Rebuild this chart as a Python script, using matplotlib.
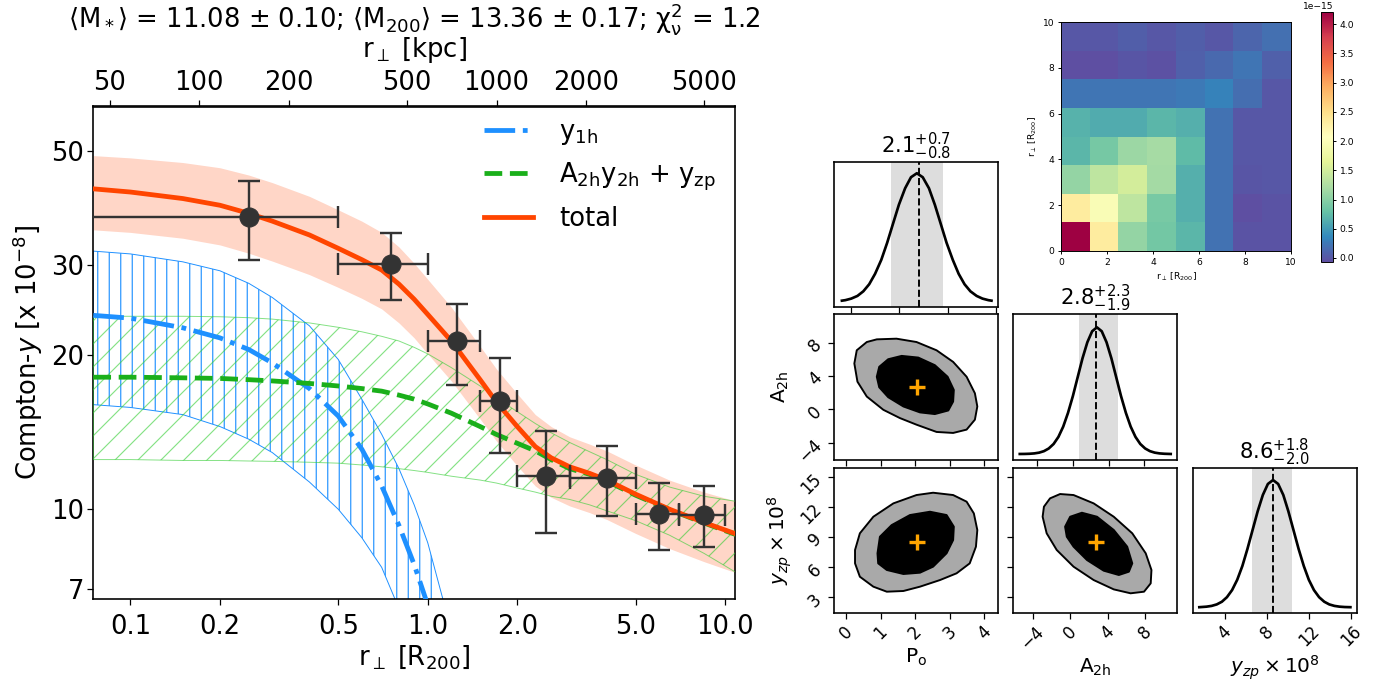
import numpy as np
import matplotlib
matplotlib.use('Agg')
import matplotlib.pyplot as plt
from matplotlib.ticker import NullLocator

plt.rcParams['font.family'] = ['DejaVu Sans']
plt.rcParams['mathtext.default'] = 'regular'
plt.rcParams['axes.linewidth'] = 1.7
plt.rcParams['hatch.linewidth'] = 1.2
plt.rcParams['xtick.major.size'] = 6
plt.rcParams['ytick.major.size'] = 6
plt.rcParams['xtick.major.width'] = 1.3
plt.rcParams['ytick.major.width'] = 1.3

# ---------------- main profile data ----------------
r_data = [0.25, 0.75, 1.25, 1.75, 2.5, 4.0, 6.0, 8.5]
r_bin_lo = [0.0, 0.5, 1.0, 1.5, 2.0, 3.0, 5.0, 7.0]
r_bin_hi = [0.5, 1.0, 1.5, 2.0, 3.0, 5.0, 7.0, 10.0]
y_data = [37.2, 30.1, 21.3, 16.3, 11.6, 11.5, 9.78, 9.75]
y_err = [6.5, 4.5, 3.85, 3.4, 2.6, 1.8, 1.45, 1.33]

r_model = [0.075, 0.1, 0.15, 0.2, 0.25, 0.3, 0.4, 0.5, 0.6, 0.7, 0.8, 0.9, 1.0,
           1.2, 1.5, 1.7, 2.0, 2.3, 2.6, 3.0, 3.5, 4.0, 5.0, 6.5, 8.5, 11.0]
total = [42.2, 41.6, 40.4, 39.2, 37.8, 36.5, 34.3, 32.3, 30.7, 29.3, 27.5, 25.7, 24.0,
         21.3, 17.9, 16.2, 14.5, 13.25, 12.6, 12.1, 11.75, 11.4, 10.7, 10.0, 9.42, 8.93]
total_hi = [49.0, 48.5, 47.5, 46.4, 44.9, 43.4, 40.8, 38.4, 36.5, 34.7, 32.5, 30.2, 28.1,
            24.8, 20.8, 18.8, 16.8, 15.3, 14.5, 13.85, 13.4, 13.0, 12.2, 11.4, 10.8, 10.35]
total_lo = [35.1, 34.7, 33.8, 32.8, 31.6, 30.5, 28.7, 27.1, 25.8, 24.6, 23.1, 21.6, 20.1,
            17.8, 15.0, 13.6, 12.15, 11.1, 10.55, 10.15, 9.85, 9.55, 8.97, 8.38, 7.9, 7.5]
y1h = [23.9, 23.6, 22.6, 21.6, 20.5, 19.3, 17.2, 15.2, 13.1, 11.1, 9.3, 7.8, 6.5,
       4.4, 2.4, 1.6, 0.9, 0.5, 0.3, 0.15, 0.07, 0.03, 0.007, 0.001, 1e-4, 1e-5]
y1h_hi = [31.9, 31.5, 30.4, 29.2, 27.6, 25.9, 22.8, 19.6, 16.4, 14.0, 12.0, 10.2, 8.6,
          5.8, 3.0, 2.0, 1.2, 0.7, 0.4, 0.2, 0.09, 0.04, 0.01, 0.0015, 2e-4, 2e-5]
y1h_lo = [16.0, 15.8, 15.3, 14.5, 13.7, 12.9, 11.3, 10.0, 8.8, 7.7, 6.4, 5.3, 4.3,
          2.9, 1.6, 1.1, 0.6, 0.35, 0.2, 0.1, 0.045, 0.02, 0.005, 8e-4, 1e-4, 1e-5]
y2h = [18.1, 18.1, 18.05, 18.0, 17.9, 17.8, 17.6, 17.4, 17.2, 17.0, 16.7, 16.4, 16.05,
       15.4, 14.5, 14.0, 13.45, 13.0, 12.5, 12.0, 11.7, 11.35, 10.65, 9.98, 9.4, 8.9]
y2h_hi = [23.8, 23.8, 23.8, 23.75, 23.65, 23.5, 23.1, 22.65, 22.2, 21.75, 21.3, 20.7, 20.1,
          18.9, 17.4, 16.5, 15.5, 14.7, 14.1, 13.5, 12.95, 12.5, 11.7, 11.05, 10.6, 10.35]
y2h_lo = [12.5, 12.5, 12.45, 12.45, 12.42, 12.4, 12.35, 12.3, 12.2, 12.1, 12.0, 11.9, 11.8,
          11.6, 11.4, 11.25, 11.0, 10.8, 10.6, 10.45, 10.2, 9.93, 9.5, 8.9, 8.2, 7.5]
R200_KPC = 587.0

xticks_main = [0.1, 0.2, 0.5, 1.0, 2.0, 5.0, 10.0]
xticklabels_main = ['0.1', '0.2', '0.5', '1.0', '2.0', '5.0', '10.0']
yticks_main = [7, 10, 20, 30, 50]
kpc_ticks = [50, 100, 200, 500, 1000, 2000, 5000]

# ---------------- covariance matrix (x1e-15) ----------------
cov_rows = [
    [4.21, 2.33, 1.08, 0.87, 0.70, 0.20, -0.03, -0.03],
    [2.33, 1.98, 1.36, 0.91, 0.65, 0.20, -0.07, -0.03],
    [1.08, 1.36, 1.51, 1.17, 0.65, 0.20, -0.01, 0.01],
    [0.70, 0.89, 1.13, 1.19, 0.74, 0.21, 0.01, 0.01],
    [0.68, 0.63, 0.63, 0.70, 0.66, 0.21, 0.01, 0.01],
    [0.23, 0.23, 0.22, 0.22, 0.25, 0.33, 0.18, 0.01],
    [-0.07, -0.07, -0.01, -0.04, 0.08, 0.14, 0.23, 0.08],
    [0.00, 0.01, 0.05, 0.01, 0.05, 0.01, 0.10, 0.19],
]
cov_scale = 1e-15

# ---------------- posterior data ----------------
p0_grid = [-0.12, -0.02, 0.15, 0.33, 0.50, 0.67, 0.84, 1.02, 1.19, 1.36, 1.53, 1.71,
           1.88, 2.05, 2.22, 2.40, 2.57, 2.74, 2.91, 3.09, 3.26, 3.43, 3.60, 3.78,
           3.95, 4.12, 4.21]
p0_pdf = [0.007, 0.011, 0.023, 0.044, 0.080, 0.135, 0.216, 0.325, 0.458, 0.607, 0.755,
          0.883, 0.969, 1.0, 0.969, 0.883, 0.755, 0.607, 0.458, 0.325, 0.216, 0.135,
          0.080, 0.044, 0.023, 0.011, 0.007]
a2h_grid = [-5.36, -4.84, -4.33, -3.81, -3.30, -2.79, -2.28, -1.76, -1.25, -0.74, -0.23,
            0.29, 0.80, 1.31, 1.83, 2.34, 2.85, 3.36, 3.87, 4.39, 4.90, 5.41, 5.93,
            6.44, 6.95, 7.46, 7.98, 8.49, 9.00, 9.51, 10.03, 10.54, 10.7]
a2h_pdf = [0.0005, 0.0009, 0.0022, 0.0051, 0.0111, 0.0228, 0.0439, 0.0796, 0.1353,
           0.2163, 0.3247, 0.4578, 0.6065, 0.7548, 0.8825, 0.9692, 1.0, 0.9692, 0.8825,
           0.7548, 0.6065, 0.4578, 0.3247, 0.2163, 0.1353, 0.0796, 0.0439, 0.0228,
           0.0111, 0.0051, 0.0022, 0.0009, 0.0005]
yzp_grid = [1.58, 1.78, 2.26, 2.75, 3.24, 3.73, 4.21, 4.70, 5.19, 5.68, 6.16, 6.65,
            7.14, 7.63, 8.11, 8.60, 9.09, 9.58, 10.06, 10.55, 11.04, 11.53, 12.01,
            12.50, 12.99, 13.48, 13.96, 14.45, 14.94, 15.43, 15.97]
yzp_pdf = [0.001, 0.0022, 0.0051, 0.0111, 0.0228, 0.0439, 0.0796, 0.1353, 0.2163,
           0.3247, 0.4578, 0.6065, 0.7548, 0.8825, 0.9692, 1.0, 0.9692, 0.8825, 0.7548,
           0.6065, 0.4578, 0.3247, 0.2163, 0.1353, 0.0796, 0.0439, 0.0228, 0.0111,
           0.0051, 0.0022, 0.001]

p0_med, p0_elo, p0_ehi = 2.1, 0.8, 0.7
a2h_med, a2h_elo, a2h_ehi = 2.8, 1.9, 2.3
yzp_med, yzp_elo, yzp_ehi = 8.6, 2.0, 1.8
p0_best, a2h_best, yzp_best = 2.04, 2.75, 8.55

# contours (P0, A2h)
c_pa_out_x = [0.24, 0.31, 0.60, 0.89, 1.46, 2.04, 2.62, 3.10, 3.49, 3.73, 3.80, 3.73,
              3.49, 3.10, 2.62, 2.04, 1.56, 1.08, 0.60, 0.33]
c_pa_out_y = [5.51, 7.09, 8.08, 8.40, 8.48, 8.08, 7.09, 5.70, 3.92, 1.94, 0.36, -1.22,
              -2.41, -2.81, -2.69, -1.82, -1.03, -0.04, 1.55, 3.33]
c_pa_in_x = [0.89, 0.96, 1.22, 1.61, 2.09, 2.57, 2.94, 3.12, 3.10, 2.96, 2.57, 2.14,
             1.66, 1.22, 0.96]
c_pa_in_y = [3.92, 5.11, 6.02, 6.42, 6.22, 5.31, 3.92, 2.34, 0.95, -0.12, -0.55, -0.35,
             0.36, 1.47, 2.66]
# contours (P0, yzp)
c_py_out_x = [0.26, 0.26, 0.40, 0.79, 1.37, 2.04, 2.52, 3.10, 3.49, 3.70, 3.80, 3.76,
              3.58, 3.20, 2.72, 2.14, 1.66, 1.18, 0.79, 0.40]
c_py_out_y = [6.38, 7.71, 9.37, 11.02, 12.35, 13.18, 13.41, 13.18, 12.52, 11.35, 9.70,
              8.04, 6.38, 5.39, 4.72, 4.06, 3.63, 3.56, 4.06, 5.05]
c_py_in_x = [0.91, 0.98, 1.32, 1.85, 2.43, 2.91, 3.12, 3.10, 2.91, 2.52, 2.14, 1.66,
             1.18, 0.93]
c_py_in_y = [7.38, 9.03, 10.19, 11.19, 11.52, 11.19, 10.03, 8.70, 7.38, 6.05, 5.45,
             5.32, 5.72, 6.38]
# contours (A2h, yzp)
c_ay_out_x = [-2.93, -2.79, -2.14, -1.07, 0.36, 2.50, 4.64, 6.61, 8.04, 8.65, 8.57,
              7.86, 6.43, 4.64, 2.50, 0.36, -1.43, -2.50]
c_ay_out_y = [11.02, 12.02, 12.85, 13.28, 13.18, 12.35, 11.02, 9.37, 7.38, 5.72, 4.39,
              3.56, 3.40, 3.79, 4.72, 6.05, 7.71, 9.37]
c_ay_in_x = [-0.54, 0.0, 1.25, 2.86, 4.64, 6.07, 6.61, 6.25, 5.18, 3.57, 1.79, 0.36,
             -0.36]
c_ay_in_y = [10.03, 11.02, 11.42, 11.02, 9.70, 8.04, 6.38, 5.55, 5.22, 5.65, 6.71,
             8.04, 9.03]

p0_lim = (-0.34, 4.39)
a2h_lim = (-6.05, 11.4)
yzp_xlim = (0.95, 16.57)
yzp_ylim = (1.41, 15.9)

# ---------------- figure ----------------
DPI = 69
W, H = 1380, 681
fig = plt.figure(figsize=(W / DPI, H / DPI), dpi=DPI)

def box(x0, y0, x1, y1):
    return [x0 / W, 1 - y1 / H, (x1 - x0) / W, (y1 - y0) / H]

FS = 27
ax = fig.add_axes(box(93.3, 106.5, 735, 599))
ax.set_xscale('log')
ax.set_yscale('log')

ax.fill_between(r_model, y1h_lo, y1h_hi, facecolor='none', edgecolor='dodgerblue',
                hatch='|', lw=1.0, zorder=1)
ax.fill_between(r_model, total_lo, total_hi, color='orangered', alpha=0.22, lw=0,
                zorder=2)
ax.fill_between(r_model, y2h_lo, y2h_hi, facecolor='none', edgecolor='limegreen',
                hatch='/', lw=1.0, alpha=0.6, zorder=3)
l1, = ax.plot(r_model, y1h, color='dodgerblue', ls='-.', lw=5, zorder=4)
l2, = ax.plot(r_model, y2h, color='#1aaf1a', ls='--', lw=5, zorder=4)
l3, = ax.plot(r_model, total, color='orangered', ls='-', lw=5, zorder=5)

r_arr = np.array(r_data)
xlo = r_arr - np.maximum(np.array(r_bin_lo), 1e-3)
xhi = np.array(r_bin_hi) - r_arr
ax.errorbar(r_data, y_data, xerr=[xlo, xhi], yerr=y_err, fmt='o', color='#333333',
            ms=20, capsize=11, elinewidth=2.5, capthick=2.5, zorder=6)

ax.set_xlim(0.075, 10.8)
ax.set_ylim(6.68, 61.1)
ax.set_xticks(xticks_main)
ax.set_xticklabels(xticklabels_main)
ax.xaxis.set_minor_locator(NullLocator())
ax.set_yticks(yticks_main)
ax.set_yticklabels([str(v) for v in yticks_main])
ax.yaxis.set_minor_locator(NullLocator())
ax.tick_params(labelsize=FS)
ax.tick_params(axis='x', pad=10)
ax.set_xlabel(r'r$_\perp$ [R$_{200}$]', fontsize=FS, labelpad=3)
ax.set_ylabel(r'Compton-$\mathit{y}$ [x 10$^{-8}$]', fontsize=FS, labelpad=6)

sec = ax.secondary_xaxis('top', functions=(lambda r: r * R200_KPC,
                                            lambda k: k / R200_KPC))
sec.set_xticks(kpc_ticks)
sec.set_xticklabels([str(v) for v in kpc_ticks])
sec.xaxis.set_minor_locator(NullLocator())
sec.tick_params(labelsize=FS, pad=5)
sec.set_xlabel(r'r$_\perp$ [kpc]', fontsize=FS, labelpad=14)
fig.text(414 / W, 1 - 19 / H,
         r'$\langle$M$_*\rangle$ = 11.08 $\pm$ 0.10; $\langle$M$_{200}\rangle$ = 13.36 $\pm$ 0.17; $\chi^2_\nu$ = 1.2',
         fontsize=FS, ha='center', va='center')

ax.legend([l1, l2, l3], [r'y$_{1h}$', r'A$_{2h}$y$_{2h}$ + y$_{zp}$', 'total'],
          loc='upper right', frameon=False, fontsize=FS, handlelength=1.9,
          handletextpad=1.0, bbox_to_anchor=(1.006, 1.021))

# ---------------- heatmap ----------------
hax = fig.add_axes(box(1061, 22, 1291, 251))
cov = np.array(cov_rows) * cov_scale
im = hax.imshow(cov, origin='lower', extent=[0, 10, 0, 10], cmap='Spectral_r',
                aspect='auto', interpolation='nearest')
hax.set_xticks([0, 2, 4, 6, 8, 10])
hax.set_yticks([0, 2, 4, 6, 8, 10])
hax.tick_params(labelsize=9.5, length=3.5, width=1)
hax.set_xlabel(r'r$_\perp$ [R$_{200}$]', fontsize=9.5)
hax.set_ylabel(r'r$_\perp$ [R$_{200}$]', fontsize=9.5)
for s in hax.spines.values():
    s.set_linewidth(1)
cax = fig.add_axes(box(1321, 12, 1333, 262))
cb = fig.colorbar(im, cax=cax)
cb.set_ticks([0, 0.5e-15, 1e-15, 1.5e-15, 2e-15, 2.5e-15, 3e-15, 3.5e-15, 4e-15])
cax.tick_params(labelsize=9.5, length=3.5, width=1)
cax.yaxis.get_offset_text().set_fontsize(9.5)
cb.outline.set_linewidth(1)

# ---------------- corner ----------------
cols = [(834.3, 997.7), (1013.3, 1177.3), (1192.7, 1356.7)]
rows = [(161.7, 306.7), (314.3, 460), (467.7, 613.3)]
CFS = 17.5
LFS = 21
TFS = 22

def cax_at(ci, ri):
    return fig.add_axes(box(cols[ci][0], rows[ri][0], cols[ci][1], rows[ri][1]))

def hist_panel(a, grid, pdf, med, elo, ehi, xlim, ylim):
    a.axvspan(med - elo, med + ehi, color='#dddddd', lw=0, zorder=0)
    a.plot(grid, pdf, color='k', lw=2.8, zorder=2, solid_joinstyle='round')
    a.axvline(med, color='k', ls='--', lw=2, zorder=3)
    a.set_xlim(*xlim)
    a.set_ylim(*ylim)
    a.set_yticks([])
    a.set_title(r'$%.1f^{+%.1f}_{-%.1f}$' % (med, ehi, elo), fontsize=TFS, pad=3)

def contour_panel(a, ox, oy, ix, iy, bx, by):
    a.fill(ox, oy, facecolor='darkgray', edgecolor='k', lw=2, zorder=1,
           joinstyle='round')
    a.fill(ix, iy, facecolor='k', edgecolor='k', lw=2, zorder=2, joinstyle='round')
    a.plot([bx], [by], marker='+', color='orange', ms=16, mew=3.5, zorder=3)

# top hist P0
a00 = cax_at(0, 0)
hist_panel(a00, p0_grid, p0_pdf, p0_med, p0_elo, p0_ehi, p0_lim, (-0.04, 1.09))
a00.set_xticks([0.14, 1.54, 2.94, 4.35])
a00.set_xticklabels([])

# A2h vs P0
a10 = cax_at(0, 1)
contour_panel(a10, c_pa_out_x, c_pa_out_y, c_pa_in_x, c_pa_in_y, p0_best, a2h_best)
a10.set_xlim(*p0_lim)
a10.set_ylim(*a2h_lim)
a10.set_xticks([0, 1, 2, 3, 4])
a10.set_xticklabels([])
a10.set_yticks([-4, 0, 4, 8])
a10.set_yticklabels(['\u22124', '0', '4', '8'], rotation=45, fontsize=CFS)
a10.set_ylabel(r'A$_{2h}$', fontsize=LFS)

# A2h hist
a11 = cax_at(1, 1)
hist_panel(a11, a2h_grid, a2h_pdf, a2h_med, a2h_elo, a2h_ehi, a2h_lim, (-0.047, 1.103))
a11.set_xticks([-3.5, 0.35, 4.15, 7.9])
a11.set_xticklabels([])

# yzp vs P0
a20 = cax_at(0, 2)
contour_panel(a20, c_py_out_x, c_py_out_y, c_py_in_x, c_py_in_y, p0_best, yzp_best)
a20.set_xlim(*p0_lim)
a20.set_ylim(*yzp_ylim)
a20.set_xticks([0, 1, 2, 3, 4])
a20.set_xticklabels(['0', '1', '2', '3', '4'], rotation=45, fontsize=CFS)
a20.set_yticks([3, 6, 9, 12, 15])
a20.set_yticklabels(['3', '6', '9', '12', '15'], rotation=45, fontsize=CFS)
a20.set_xlabel(r'P$_o$', fontsize=LFS)
a20.set_ylabel(r'$\mathit{y}_{\mathit{zp}}\times 10^8$', fontsize=LFS)

# yzp vs A2h
a21 = cax_at(1, 2)
contour_panel(a21, c_ay_out_x, c_ay_out_y, c_ay_in_x, c_ay_in_y, a2h_best, yzp_best)
a21.set_xlim(*a2h_lim)
a21.set_ylim(*yzp_ylim)
a21.set_xticks([-4, 0, 4, 8])
a21.set_xticklabels(['\u22124', '0', '4', '8'], rotation=45, fontsize=CFS)
a21.set_yticks([3, 6, 9, 12, 15])
a21.set_yticklabels([])
a21.set_xlabel(r'A$_{2h}$', fontsize=LFS)

# yzp hist
a22 = cax_at(2, 2)
hist_panel(a22, yzp_grid, yzp_pdf, yzp_med, yzp_elo, yzp_ehi, yzp_xlim, (-0.047, 1.097))
a22.set_xticks([4, 8, 12, 16])
a22.set_xticklabels(['4', '8', '12', '16'], rotation=45, fontsize=CFS)
a22.set_xlabel(r'$\mathit{y}_{\mathit{zp}}\times 10^8$', fontsize=LFS)

fig.savefig('out.png', dpi=DPI)
